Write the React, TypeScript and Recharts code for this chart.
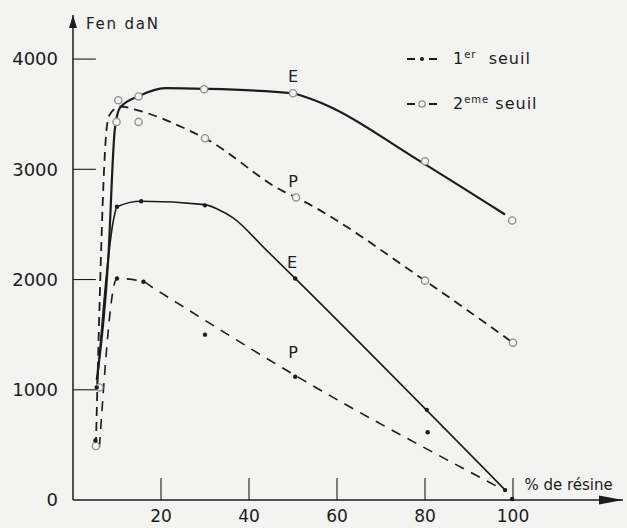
import React from "react";
import {
  ComposedChart,
  Line,
  Scatter,
  XAxis,
  YAxis,
  ReferenceLine,
  ReferenceDot,
  Legend,
} from "recharts";

const PAPER = "#f3f3f1";
const INK = "#1c1c1c";
const CIRCLE = "#909090";
const FONT = "'DejaVu Sans', sans-serif";

// axes
const xTicks = [20, 40, 60, 80, 100];
const yTicks = [0, 1000, 2000, 3000, 4000];

// hand drawn curves, [% de résine, F en daN]
const e2Curve = [
  [5.4, 1090], [8, 2180], [9.5, 3360], [10.7, 3560], [15, 3664], [21, 3736],
  [30, 3730], [50, 3690], [52, 3667], [58, 3575], [77, 3120], [98.2, 2590],
];
const p2Curve = [
  [5.2, 490], [7.7, 3390], [8.4, 3500], [10.7, 3570], [15.2, 3530], [26, 3360],
  [30, 3282], [47.8, 2800], [50.7, 2745], [80, 1990], [99.5, 1440],
];
const e1Curve = [
  [5.5, 1050], [9.3, 2560], [10, 2660], [15.5, 2710], [30, 2680], [33, 2636],
  [36.4, 2560], [43.5, 2285], [50.5, 2010], [98.2, 91],
];
const p1Curve = [
  [6, 480], [10, 2010], [16, 1980], [18, 1930], [50.5, 1130], [97.5, 100],
];

// measured points
const seuil2Points = [
  [5.2, 490], [6, 1021], [10.3, 3627], [14.9, 3661], [29.8, 3727], [50, 3690],
  [80, 3073], [99.8, 2536], [9.9, 3430], [14.9, 3430], [30, 3282], [50.7, 2745],
  [80, 1990], [100, 1427],
];
const seuil1Points = [
  [5.1, 540], [5.4, 1021], [10, 2660], [15.5, 2710], [30, 2673], [50.5, 2010],
  [80.4, 818], [99.8, 9], [98.2, 90], [10, 2010], [16, 1980], [30, 1500],
  [50.5, 1118], [80.6, 615],
];

// curve names written on the figure
const noteText = ["E", "P", "E", "P"];
const noteX = [50, 50, 49.8, 50];
const noteY = [3790, 2840, 2105, 1289];

const pts = (a: number[][]) => a.map(([x, y]) => ({ x, y }));

const OpenCircle = (p: any) => (
  <circle cx={p.cx} cy={p.cy} r={3.6} fill={PAPER} stroke={CIRCLE} strokeWidth={1.4} />
);
const FilledDot = (p: any) => <circle cx={p.cx} cy={p.cy} r={2.2} fill={INK} />;

const textAt =
  (text: string, size: number, anchor: string, spacing = 0) =>
  (p: any) =>
    (
      <text
        x={p.cx}
        y={p.cy}
        fontSize={size}
        fontFamily={FONT}
        textAnchor={anchor}
        letterSpacing={spacing}
        fill={INK}
      >
        {text}
      </text>
    );

const LegendBox = () => {
  const row: React.CSSProperties = { display: "flex", alignItems: "center", height: 45 };
  return (
    <div style={{ fontFamily: FONT, fontSize: 16, color: INK, letterSpacing: 1 }}>
      <div style={row}>
        <svg width={32} height={10}>
          <line x1={1} y1={5} x2={9} y2={5} stroke={INK} strokeWidth={2} />
          <circle cx={16} cy={5} r={2} fill={INK} />
          <line x1={23} y1={5} x2={31} y2={5} stroke={INK} strokeWidth={2} />
        </svg>
        <span style={{ marginLeft: 15 }}>
          1<sup style={{ fontSize: 10 }}>er</sup>&nbsp; seuil
        </span>
      </div>
      <div style={row}>
        <svg width={32} height={10}>
          <line x1={1} y1={5} x2={9} y2={5} stroke={INK} strokeWidth={2} />
          <circle cx={16} cy={5} r={3.2} fill="none" stroke={CIRCLE} strokeWidth={1.3} />
          <line x1={23} y1={5} x2={31} y2={5} stroke={INK} strokeWidth={2} />
        </svg>
        <span style={{ marginLeft: 15 }}>
          2<sup style={{ fontSize: 10 }}>eme</sup> seuil
        </span>
      </div>
    </div>
  );
};

export default function App() {
  return (
    <div
      style={{
        position: "absolute",
        left: 0,
        top: 0,
        width: 627,
        height: 528,
        background: PAPER,
      }}
    >
      <ComposedChart
        width={627}
        height={528}
        margin={{ top: 15, right: 4, left: 13, bottom: 0 }}
      >
        <XAxis
          dataKey="x"
          type="number"
          domain={[0, 125]}
          ticks={xTicks}
          height={28}
          tickSize={0}
          tickMargin={10}
          axisLine={{ stroke: INK, strokeWidth: 1.5 }}
          tick={{ fill: INK, fontSize: 17, fontFamily: FONT }}
        />
        <YAxis
          dataKey="y"
          type="number"
          domain={[0, 4400]}
          ticks={yTicks}
          width={60}
          tickSize={0}
          tickMargin={15}
          axisLine={{ stroke: INK, strokeWidth: 1.5 }}
          tick={{ fill: INK, fontSize: 18, fontFamily: FONT }}
        />

        {yTicks
          .filter((v) => v > 0)
          .map((v) => (
            <ReferenceLine
              key={"yt" + v}
              segment={[{ x: 0, y: v }, { x: 5.2, y: v }]}
              stroke={INK}
              strokeWidth={1.1}
            />
          ))}
        {xTicks.map((v) => (
          <ReferenceLine
            key={"xt" + v}
            segment={[{ x: v, y: 0 }, { x: v, y: 200 }]}
            stroke={INK}
            strokeWidth={1.1}
          />
        ))}

        <Line
          data={pts(e2Curve)}
          dataKey="y"
          type="monotone"
          stroke={INK}
          strokeWidth={2.2}
          dot={false}
          activeDot={false}
          legendType="none"
          isAnimationActive={false}
        />
        <Line
          data={pts(p2Curve)}
          dataKey="y"
          type="monotone"
          stroke={INK}
          strokeWidth={1.8}
          strokeDasharray="9 6"
          dot={false}
          activeDot={false}
          legendType="none"
          isAnimationActive={false}
        />
        <Line
          data={pts(e1Curve)}
          dataKey="y"
          type="monotone"
          stroke={INK}
          strokeWidth={1.6}
          dot={false}
          activeDot={false}
          legendType="none"
          isAnimationActive={false}
        />
        <Line
          data={pts(p1Curve)}
          dataKey="y"
          type="monotone"
          stroke={INK}
          strokeWidth={1.6}
          strokeDasharray="10 8"
          dot={false}
          activeDot={false}
          legendType="none"
          isAnimationActive={false}
        />

        <Scatter
          data={pts(seuil2Points)}
          dataKey="y"
          shape={OpenCircle}
          legendType="none"
          isAnimationActive={false}
        />
        <Scatter
          data={pts(seuil1Points)}
          dataKey="y"
          shape={FilledDot}
          legendType="none"
          isAnimationActive={false}
        />

        {noteText.map((t, i) => (
          <ReferenceDot
            key={"n" + i}
            x={noteX[i]}
            y={noteY[i]}
            ifOverflow="visible"
            shape={textAt(t, 16, "middle")}
          />
        ))}
        <ReferenceDot
          x={2.95}
          y={4274}
          ifOverflow="visible"
          shape={textAt("Fen daN", 15, "start", 1.8)}
        />
        <ReferenceDot
          x={102.6}
          y={91}
          ifOverflow="visible"
          shape={textAt("% de résine", 15, "start", 0)}
        />

        {/* axis arrowheads */}
        <ReferenceDot
          x={0}
          y={4400}
          ifOverflow="visible"
          shape={(p: any) => (
            <polygon
              points={`${p.cx},${p.cy} ${p.cx - 4},${p.cy + 13} ${p.cx + 4},${p.cy + 13}`}
              fill={INK}
            />
          )}
        />
        <ReferenceDot
          x={125}
          y={0}
          ifOverflow="visible"
          shape={(p: any) => (
            <polygon
              points={`${p.cx},${p.cy} ${p.cx - 24},${p.cy - 4.5} ${p.cx - 24},${p.cy + 4.5}`}
              fill={INK}
            />
          )}
        />

        <Legend
          layout="horizontal"
          verticalAlign="middle"
          align="center"
          content={<LegendBox />}
          wrapperStyle={{ position: "absolute", left: 406, top: 36, width: 210 }}
        />
      </ComposedChart>
    </div>
  );
}
